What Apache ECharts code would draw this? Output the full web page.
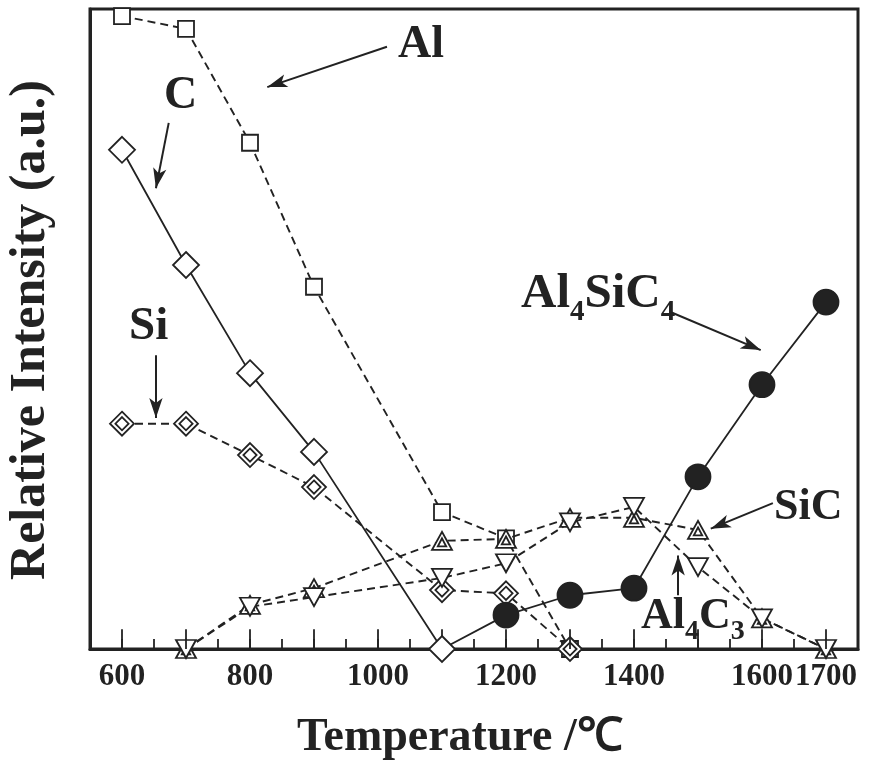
<!DOCTYPE html>
<html>
<head>
<meta charset="utf-8">
<script src="https://cdn.jsdelivr.net/npm/echarts@6/dist/echarts.min.js"></script>
<style>
html,body{margin:0;padding:0;background:#fff;}
#chart{width:873px;height:782px;}
</style>
</head>
<body>
<div id="chart"></div>
<script>
// ---- data (temperature in °C, relative intensity in a.u., 0-100 scale) ----
var tickLabels = [600, 800, 1000, 1200, 1400, 1600, 1700];
var majorTicks = [600, 700, 800, 900, 1000, 1100, 1200, 1300, 1400, 1500, 1600, 1700];

var alTemps = [600, 700, 800, 900, 1100, 1200, 1300];
var alVals  = [98.9, 96.9, 79.1, 56.6, 21.4, 17.3, 0];

var cTemps = [600, 700, 800, 900, 1100];
var cVals  = [78.0, 60.0, 43.1, 30.8, 0];

var siTemps = [600, 700, 800, 900, 1100, 1200, 1300];
var siVals  = [35.2, 35.2, 30.3, 25.3, 9.2, 8.7, 0];

var sicTemps = [700, 800, 900, 1100, 1200, 1300, 1400, 1500, 1600, 1700];
var sicVals  = [0, 6.9, 9.5, 16.9, 17.2, 20.5, 20.5, 18.6, 4.8, 0];

var al4c3Temps = [700, 800, 900, 1100, 1200, 1300, 1400, 1500, 1600, 1700];
var al4c3Vals  = [0, 6.6, 8.1, 11.1, 13.4, 19.8, 22.2, 12.8, 4.8, 0];

var al4sic4Temps = [1100, 1200, 1300, 1400, 1500, 1600, 1700];
var al4sic4Vals  = [0, 5.3, 8.4, 9.5, 26.9, 41.3, 54.2];

// annotation arrows: [x1, y1, x2, y2] in data coordinates (arrowhead at x2,y2)
var arrowAl      = [1014, 94.1, 827, 87.8];
var arrowC       = [673, 82.2, 653, 72.0];
var arrowSi      = [653, 45.9, 653, 36.1];
var arrowAl4SiC4 = [1456, 52.7, 1598, 46.7];
var arrowSiC     = [1617, 22.8, 1520, 18.8];
var arrowAl4C3   = [1469, 8.4, 1469, 14.6];

var INK = '#222';
var SERIF = '"Liberation Serif", "Times New Roman", serif';

function pairs(xs, ys) { return xs.map(function (x, i) { return [x, ys[i]]; }); }

var chart = echarts.init(document.getElementById('chart'), null, {renderer: 'canvas'});

function lineSeries(name, xs, ys, symbol, size, dashed, filled, z) {
  return {
    name: name, type: 'line', data: pairs(xs, ys),
    symbol: symbol, symbolSize: size, showSymbol: true,
    z: z || 3,
    lineStyle: {color: INK, width: dashed ? 1.9 : 1.8, type: dashed ? [8, 5] : 'solid'},
    itemStyle: {color: filled ? INK : '#fff', borderColor: INK, borderWidth: 1.8},
    emphasis: {disabled: true},
    animation: false
  };
}

var alSer = lineSeries('Al', alTemps, alVals, 'rect', 16, true, false, 3);
var cSer = lineSeries('C', cTemps, cVals, 'diamond', 26, false, false, 6);
var siSer = lineSeries('Si', siTemps, siVals,
  'path://M0,-10L10,0L0,10L-10,0Z M0,-5.5L5.5,0L0,5.5L-5.5,0Z', 24, true, false, 4);
var sicSer = lineSeries('SiC', sicTemps, sicVals,
  'path://M0,-10L10,8L-10,8Z M0,-3.5L4.2,4.5L-4.2,4.5Z', [20, 18], true, false, 4);
var al4c3Ser = lineSeries('Al4C3', al4c3Temps, al4c3Vals,
  'path://M-10,-8L10,-8L0,10Z', [20, 18], true, false, 4);
var al4sic4Data = pairs(al4sic4Temps, al4sic4Vals);
al4sic4Data[0] = {value: al4sic4Data[0], symbol: 'none'};
var al4sic4Ser = lineSeries('Al4SiC4', al4sic4Temps, al4sic4Vals, 'circle', 25, false, true, 5);
al4sic4Ser.data = al4sic4Data;

function arrowItem(a) {
  return [{coord: [a[0], a[1]]}, {coord: [a[2], a[3]]}];
}

var annoSer = {
  type: 'line', data: [], silent: true, z: 7,
  markLine: {
    silent: true, animation: false,
    symbol: ['none', 'arrow'], symbolSize: [10, 20],
    label: {show: false},
    lineStyle: {color: INK, width: 2, type: 'solid'},
    data: [arrowAl, arrowC, arrowSi, arrowAl4SiC4, arrowSiC, arrowAl4C3].map(arrowItem)
  }
};

var tickSer = {
  type: 'line', data: [], silent: true, z: 2,
  markLine: {
    silent: true, animation: false, symbol: ['none', 'none'],
    label: {show: false},
    lineStyle: {color: INK, width: 1.8, type: 'solid'},
    data: majorTicks.map(function (t) { return [{coord: [t, 0]}, {coord: [t, 3.1]}]; })
  }
};

// text annotations with subscripts, positioned by baseline
var measCtx = document.createElement('canvas').getContext('2d');
function textW(str, size) {
  measCtx.font = 'bold ' + size + 'px ' + SERIF;
  return measCtx.measureText(str).width;
}
function txt(str, x, baseline, size, align) {
  return {
    type: 'text', x: x, y: baseline - 0.34 * size, z: 100, silent: true,
    style: {text: str, fill: INK, font: 'bold ' + size + 'px ' + SERIF,
            align: align || 'left', verticalAlign: 'middle'}
  };
}
function formula(parts, x, baseline, size, subSize, subDrop) {
  var out = [], cx = x;
  parts.forEach(function (p) {
    if (p.sub) {
      out.push(txt(p.t, cx, baseline + subDrop, subSize));
      cx += textW(p.t, subSize);
    } else {
      out.push(txt(p.t, cx, baseline, size));
      cx += textW(p.t, size);
    }
  });
  return out;
}

var graphics = [];
graphics.push(txt('Al', 398, 61, 46));
graphics.push(txt('C', 164, 112, 46));
graphics.push(txt('Si', 129, 343, 47));
graphics.push(txt('SiC', 774, 523, 44));
graphics = graphics.concat(formula([{t: 'Al'}, {t: '4', sub: 1}, {t: 'SiC'}, {t: '4', sub: 1}], 521, 311, 49, 29, 11));
graphics = graphics.concat(formula([{t: 'Al'}, {t: '4', sub: 1}, {t: 'C'}, {t: '3', sub: 1}], 641, 632, 44, 28, 9));
graphics.push(txt('Temperature /℃', 297, 754, 46));
graphics.push({
  type: 'text', x: 31, y: 330, rotation: Math.PI / 2, z: 100, silent: true,
  style: {text: 'Relative Intensity (a.u.)', fill: INK, font: 'bold 50px ' + SERIF,
          align: 'center', verticalAlign: 'middle'}
});

var option = {
  animation: false,
  backgroundColor: '#fff',
  grid: {left: 90, right: 15, top: 9, bottom: 133, show: true,
         borderColor: INK, borderWidth: 3, backgroundColor: 'transparent'},
  xAxis: {
    type: 'value', min: 550, max: 1750, interval: 50,
    axisLine: {show: true, lineStyle: {color: INK, width: 3}},
    axisTick: {show: true, inside: true, length: 10, lineStyle: {color: INK, width: 1.8}},
    splitLine: {show: false},
    axisLabel: {
      color: INK, fontSize: 31, fontWeight: 'bold', fontFamily: SERIF, margin: 12,
      formatter: function (v) { return tickLabels.indexOf(v) >= 0 ? String(v) : ''; }
    }
  },
  yAxis: {
    type: 'value', min: 0, max: 100,
    axisLine: {show: true, lineStyle: {color: INK, width: 3}},
    axisTick: {show: false}, axisLabel: {show: false}, splitLine: {show: false}
  },
  series: [tickSer, alSer, siSer, sicSer, al4c3Ser, al4sic4Ser, cSer, annoSer],
  graphic: graphics
};
chart.setOption(option);
</script>
</body>
</html>
